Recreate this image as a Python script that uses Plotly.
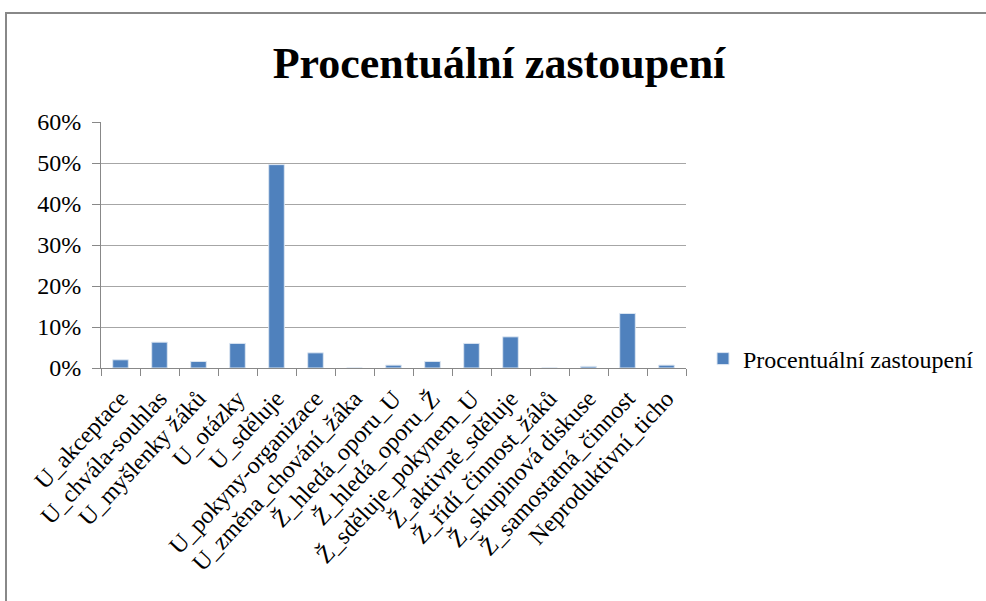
import plotly.graph_objects as go

categories = [
    "U_akceptace", "U_chvála-souhlas", "U_myšlenky žáků", "U_otázky", "U_sděluje",
    "U_pokyny-organizace", "U_změna_chování_žáka", "Ž_hledá_oporu_U", "Ž_hledá_oporu_Ž",
    "Ž_sděluje_pokynem_U", "Ž_aktivně_sděluje", "Ž_řídí_činnost_žáků",
    "Ž_skupinová diskuse", "Ž_samostatná_činnost", "Neproduktivní_ticho",
]
values = [0.020, 0.063, 0.016, 0.060, 0.496, 0.037, 0.0, 0.007, 0.016,
          0.060, 0.076, 0.0, 0.004, 0.133, 0.007]
series_name = "Procentuální zastoupení"
tick_vals = [0, 0.1, 0.2, 0.3, 0.4, 0.5, 0.6]
tick_text = ["0%", "10%", "20%", "30%", "40%", "50%", "60%"]

FONT = "Liberation Serif, Times New Roman, serif"

fig = go.Figure()
fig.add_trace(go.Bar(
    x=categories, y=values, name=series_name,
    marker=dict(color="#4F81BD", line=dict(color="#dce6f2", width=1)),
    showlegend=True,
))

L, R, T, B = 101, 300, 122, 233
W, H = 986, 601
pw = W - L - R
ph = H - T - B

def px_x(x):
    return (x - L) / pw

def px_y(y):
    return (H - B - y) / ph

fig.update_layout(
    width=W, height=H,
    margin=dict(l=L, r=R, t=T, b=B, autoexpand=False),
    paper_bgcolor="white", plot_bgcolor="white",
    font=dict(family=FONT, size=24, color="black"),
    title=dict(text="<b>Procentuální zastoupení</b>", x=499 / W, xanchor="center",
               y=1 - 63 / H, yanchor="middle", yref="container",
               font=dict(family=FONT, size=44, color="black")),
    bargap=0.6,
    showlegend=True,
    legend=dict(x=px_x(703), y=px_y(359), xanchor="left", yanchor="middle",
                font=dict(family=FONT, size=24), itemwidth=30,
                bgcolor="rgba(0,0,0,0)"),
    xaxis=dict(type="category", showline=True, linecolor="#888888", linewidth=1,
               ticks="outside", ticklen=7, tickcolor="#888888", tickson="boundaries",
               tickangle=-47, tickfont=dict(family=FONT, size=24),
               ticklabelstandoff=6,
               showgrid=False, mirror=False),
    yaxis=dict(range=[0, 0.6], tickvals=tick_vals, ticktext=tick_text,
               showline=True, linecolor="#888888", linewidth=1,
               ticks="outside", ticklen=8, tickcolor="#888888",
               ticklabelstandoff=6,
               showgrid=True, gridcolor="#a6a6a6", gridwidth=1,
               zeroline=False, tickfont=dict(family=FONT, size=24)),
    shapes=[dict(type="rect", xref="paper", yref="paper",
                 x0=px_x(6), x1=px_x(995), y0=px_y(610), y1=px_y(13),
                 line=dict(color="#888888", width=2), fillcolor="rgba(0,0,0,0)",
                 layer="below")],
)

fig.write_html("out.html", config={"displayModeBar": False},
               post_script="document.body.style.margin='0';")
